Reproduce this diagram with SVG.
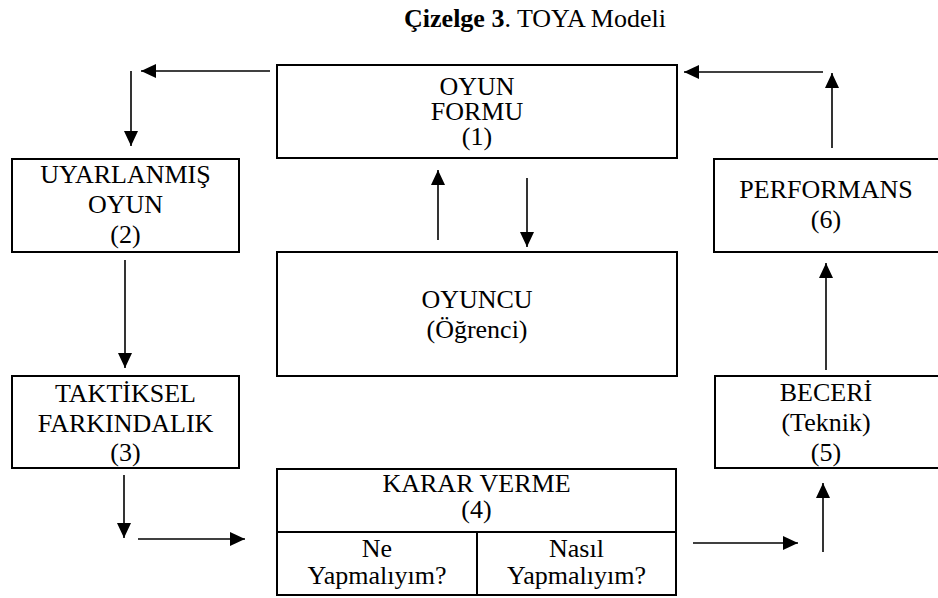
<svg xmlns="http://www.w3.org/2000/svg" width="938" height="598" viewBox="0 0 938 598">
<style>
  .box{fill:#fff;stroke:#000;stroke-width:2}
  .t{font-family:"Liberation Serif","Times New Roman",serif;font-size:26px;fill:#000;text-anchor:middle}
  .c{stroke:#000;stroke-width:1.6;fill:none;marker-end:url(#ah)}
</style>
<defs>
  <marker id="ah" markerUnits="userSpaceOnUse" markerWidth="15" markerHeight="14" refX="15" refY="7" orient="auto">
    <path d="M0,0 L15,7 L0,14 z" fill="#000"/>
  </marker>
</defs>
<rect width="938" height="598" fill="#fff"/>
<text class="t" x="535" y="27"><tspan font-weight="bold">Çizelge 3</tspan>. TOYA Modeli</text>

<g id="node-oyun-formu">
  <rect class="box" x="277" y="65" width="400" height="93"/>
  <text class="t" x="477" y="95">OYUN</text>
  <text class="t" x="477" y="120">FORMU</text>
  <text class="t" x="477" y="145">(1)</text>
</g>
<g id="node-uyarlanmis-oyun">
  <rect class="box" x="12" y="159" width="227" height="93"/>
  <text class="t" x="125.5" y="183">UYARLANMIŞ</text>
  <text class="t" x="125.5" y="213">OYUN</text>
  <text class="t" x="125.5" y="243">(2)</text>
</g>
<g id="node-taktiksel">
  <rect class="box" x="12" y="376" width="227" height="92"/>
  <text class="t" x="125.5" y="402">TAKTİKSEL</text>
  <text class="t" x="125.5" y="432">FARKINDALIK</text>
  <text class="t" x="125.5" y="461">(3)</text>
</g>
<g id="node-oyuncu">
  <rect class="box" x="277" y="252" width="400" height="124"/>
  <text class="t" x="477" y="308">OYUNCU</text>
  <text class="t" x="477" y="338">(Öğrenci)</text>
</g>
<g id="node-karar-verme">
  <rect class="box" x="277" y="469" width="399" height="126"/>
  <line x1="277" y1="532" x2="676" y2="532" stroke="#000" stroke-width="2"/>
  <line x1="477" y1="532" x2="477" y2="595" stroke="#000" stroke-width="2"/>
  <text class="t" x="476.5" y="492">KARAR VERME</text>
  <text class="t" x="476.5" y="518">(4)</text>
  <text class="t" x="377" y="557">Ne</text>
  <text class="t" x="377" y="584">Yapmalıyım?</text>
  <text class="t" x="576.5" y="557">Nasıl</text>
  <text class="t" x="576.5" y="584">Yapmalıyım?</text>
</g>
<g id="node-beceri">
  <rect class="box" x="715" y="376" width="226" height="92"/>
  <text class="t" x="826" y="401">BECERİ</text>
  <text class="t" x="826" y="431">(Teknik)</text>
  <text class="t" x="826" y="461">(5)</text>
</g>
<g id="node-performans">
  <rect class="box" x="714" y="159" width="227" height="93"/>
  <text class="t" x="826" y="198">PERFORMANS</text>
  <text class="t" x="826" y="228">(6)</text>
</g>

<g id="connectors">
  <line class="c" x1="270" y1="71" x2="141" y2="71"/>
  <line class="c" x1="131" y1="71" x2="131" y2="146"/>
  <line class="c" x1="125" y1="260" x2="125" y2="368"/>
  <line class="c" x1="124" y1="475" x2="124" y2="538"/>
  <line class="c" x1="138" y1="539" x2="245" y2="539"/>
  <line class="c" x1="693" y1="543" x2="798" y2="543"/>
  <line class="c" x1="823" y1="552" x2="823" y2="483"/>
  <line class="c" x1="826" y1="370" x2="826" y2="263"/>
  <line class="c" x1="832" y1="148" x2="832" y2="73"/>
  <line class="c" x1="823" y1="72" x2="684" y2="72"/>
  <line class="c" x1="438" y1="240" x2="438" y2="170"/>
  <line class="c" x1="527" y1="178" x2="527" y2="247"/>
</g>
</svg>
